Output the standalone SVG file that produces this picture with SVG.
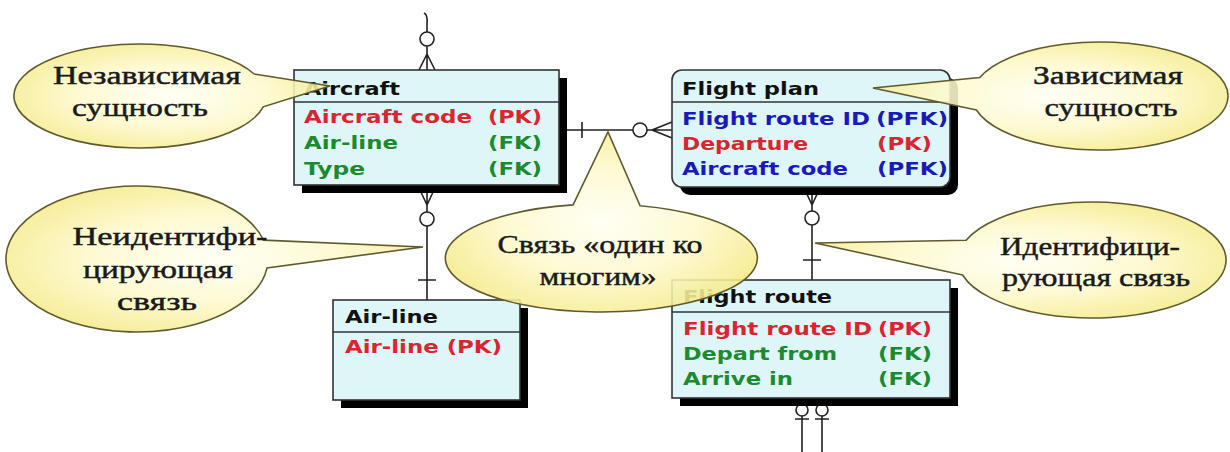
<svg xmlns="http://www.w3.org/2000/svg" width="1230" height="452" viewBox="0 0 1230 452">
<defs>
<radialGradient id="yel" cx="50%" cy="50%" r="55%">
<stop offset="0" stop-color="#fffff4"/>
<stop offset="0.55" stop-color="#fdf9cc"/>
<stop offset="1" stop-color="#f5eb8c"/>
</radialGradient>
<style>
.box{fill:#dff6f9;stroke:#333;stroke-width:1.6}
.shadow{fill:#000}
.div{stroke:#333;stroke-width:1.6}
.t{font-family:"DejaVu Sans",Verdana,sans-serif;font-weight:bold;font-size:18px}
.h{fill:#111}
.r{fill:#d9252f}
.g{fill:#1c8a2e}
.b{fill:#1a1ab8}
.conn{stroke:#222;stroke-width:1.6;fill:none}
.ring{stroke:#222;stroke-width:1.6;fill:#fff}
.call{fill:url(#yel);fill-opacity:0.88;stroke:#5e5a2e;stroke-width:1.6}
.ct{font-family:"Liberation Serif","Times New Roman",serif;font-size:26px;fill:#1a1a1a;stroke:#1a1a1a;stroke-width:0.45;text-anchor:middle}
</style>
</defs>
<rect width="1230" height="452" fill="#fff"/>
<g id="connectors">
<path class="conn" d="M424,13 Q428,15 427,24 L427,32"/>
<circle class="ring" cx="427" cy="39" r="7"/>
<path class="conn" d="M427,46 L427,70 M427,54 L419,70 M427,54 L435,70"/>
<path class="conn" d="M427,185 L427,212 M427,226 L427,300 M427,205 L420,190 M427,205 L434,190 M418,280 L436,280"/>
<circle class="ring" cx="427" cy="219" r="7"/>
<path class="conn" d="M559,130 L633,130 M647,130 L672,130 M582,122 L582,138 M652,130 L672,122 M652,130 L672,138"/>
<circle class="ring" cx="640" cy="130" r="7"/>
<path class="conn" d="M812,187 L812,211 M812,225 L812,280 M812,205 L805,190 M812,205 L819,190 M803,260 L821,260"/>
<circle class="ring" cx="812" cy="218" r="7"/>
<path class="conn" d="M802,398 L802,452 M822,398 L822,452 M795,419 L809,419 M815,419 L829,419"/>
<circle class="ring" cx="802" cy="410" r="6"/>
<circle class="ring" cx="822" cy="410" r="6"/>
</g>
<g id="aircraft">
<rect class="shadow" x="302" y="78" width="265" height="115"/>
<rect class="box" x="294" y="70" width="265" height="115"/>
<line class="div" x1="294" y1="102" x2="559" y2="102"/>
<text class="t h" x="304" y="95" textLength="96" lengthAdjust="spacingAndGlyphs">Aircraft</text>
<text class="t r" x="304" y="123" textLength="168" lengthAdjust="spacingAndGlyphs">Aircraft code</text>
<text class="t r" x="488" y="123" textLength="54" lengthAdjust="spacingAndGlyphs">(PK)</text>
<text class="t g" x="304" y="149" textLength="94" lengthAdjust="spacingAndGlyphs">Air-line</text>
<text class="t g" x="488" y="149" textLength="54" lengthAdjust="spacingAndGlyphs">(FK)</text>
<text class="t g" x="304" y="175" textLength="61" lengthAdjust="spacingAndGlyphs">Type</text>
<text class="t g" x="488" y="175" textLength="54" lengthAdjust="spacingAndGlyphs">(FK)</text>
</g>
<g id="flight-plan">
<rect class="shadow" x="680" y="78" width="278" height="117" rx="10"/>
<rect class="box" x="672" y="70" width="278" height="117" rx="10"/>
<line class="div" x1="672" y1="102" x2="950" y2="102"/>
<text class="t h" x="682" y="95" textLength="137" lengthAdjust="spacingAndGlyphs">Flight plan</text>
<text class="t b" x="682" y="125" textLength="188" lengthAdjust="spacingAndGlyphs">Flight route ID</text>
<text class="t b" x="876" y="125" textLength="72" lengthAdjust="spacingAndGlyphs">(PFK)</text>
<text class="t r" x="682" y="150" textLength="126" lengthAdjust="spacingAndGlyphs">Departure</text>
<text class="t r" x="877" y="150" textLength="55" lengthAdjust="spacingAndGlyphs">(PK)</text>
<text class="t b" x="682" y="175" textLength="166" lengthAdjust="spacingAndGlyphs">Aircraft code</text>
<text class="t b" x="877" y="175" textLength="71" lengthAdjust="spacingAndGlyphs">(PFK)</text>
</g>
<g id="air-line">
<rect class="shadow" x="341" y="308" width="187" height="100"/>
<rect class="box" x="333" y="300" width="187" height="100"/>
<line class="div" x1="333" y1="332" x2="520" y2="332"/>
<text class="t h" x="345" y="323" textLength="93" lengthAdjust="spacingAndGlyphs">Air-line</text>
<text class="t r" x="345" y="353" textLength="157" lengthAdjust="spacingAndGlyphs">Air-line (PK)</text>
</g>
<g id="flight-route">
<rect class="shadow" x="680" y="288" width="278" height="118"/>
<rect class="box" x="672" y="280" width="278" height="118"/>
<line class="div" x1="672" y1="312" x2="950" y2="312"/>
<text class="t h" x="683" y="303" textLength="149" lengthAdjust="spacingAndGlyphs">Flight route</text>
<text class="t r" x="683" y="335" textLength="189" lengthAdjust="spacingAndGlyphs">Flight route ID</text>
<text class="t r" x="878" y="335" textLength="54" lengthAdjust="spacingAndGlyphs">(PK)</text>
<text class="t g" x="683" y="360" textLength="154" lengthAdjust="spacingAndGlyphs">Depart from</text>
<text class="t g" x="878" y="360" textLength="54" lengthAdjust="spacingAndGlyphs">(FK)</text>
<text class="t g" x="683" y="385" textLength="110" lengthAdjust="spacingAndGlyphs">Arrive in</text>
<text class="t g" x="878" y="385" textLength="54" lengthAdjust="spacingAndGlyphs">(FK)</text>
</g>
<g id="callout-independent">
<path class="call" d="M254.2,74 L330,86 L263.2,106.8 A126,52 0 1 1 254.2,74 Z"/>
<text class="ct" x="147" y="84" textLength="188" lengthAdjust="spacingAndGlyphs">Независимая</text>
<text class="ct" x="140" y="116" textLength="136" lengthAdjust="spacingAndGlyphs">сущность</text>
</g>
<g id="callout-nonidentifying">
<path class="call" d="M263.5,240.1 L423,247 L267,267.9 A131,73 0 1 1 263.5,240.1 Z"/>
<text class="ct" x="170" y="245" textLength="195" lengthAdjust="spacingAndGlyphs">Неидентифи-</text>
<text class="ct" x="158" y="278" textLength="150" lengthAdjust="spacingAndGlyphs">цирующая</text>
<text class="ct" x="157" y="310" textLength="80" lengthAdjust="spacingAndGlyphs">связь</text>
</g>
<g id="callout-one-to-many">
<path class="call" d="M573.1,204.9 L608,132 L640.1,205.7 A156,54 0 1 1 573.1,204.9 Z"/>
<text class="ct" x="600" y="253" textLength="205" lengthAdjust="spacingAndGlyphs">Связь «один ко</text>
<text class="ct" x="598" y="285" textLength="117" lengthAdjust="spacingAndGlyphs">многим»</text>
</g>
<g id="callout-dependent">
<path class="call" d="M976.4,110 L873,88 L979.7,77.5 A128,54 0 1 1 976.4,110 Z"/>
<text class="ct" x="1108" y="84" textLength="150" lengthAdjust="spacingAndGlyphs">Зависимая</text>
<text class="ct" x="1111" y="116" textLength="133" lengthAdjust="spacingAndGlyphs">сущность</text>
</g>
<g id="callout-identifying">
<path class="call" d="M962.6,275 L815,243 L966.1,240.2 A134,58 0 1 1 962.6,275 Z"/>
<text class="ct" x="1090" y="255" textLength="180" lengthAdjust="spacingAndGlyphs">Идентифици-</text>
<text class="ct" x="1096" y="286" textLength="188" lengthAdjust="spacingAndGlyphs">рующая связь</text>
</g>
</svg>
